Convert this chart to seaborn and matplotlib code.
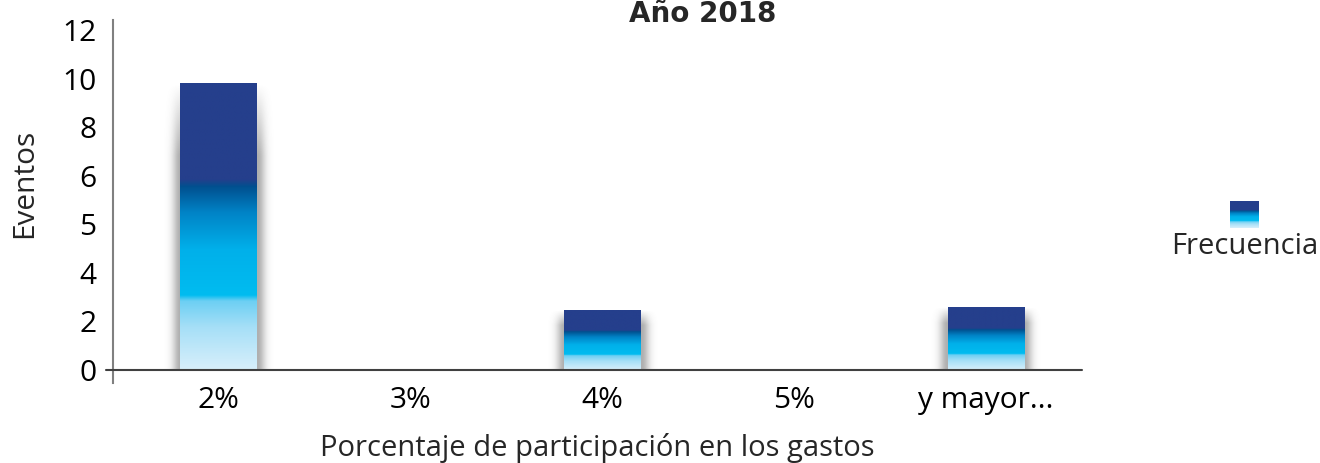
import numpy as np
import pandas as pd
import matplotlib
matplotlib.use("Agg")
import matplotlib.pyplot as plt
from matplotlib.colors import LinearSegmentedColormap
import seaborn as sns

# datos
categorias = ["2%", "3%", "4%", "5%", "y mayor..."]
frecuencia = [10.1, 0, 2.1, 0, 2.2]
etiquetas_y = ["0", "2", "4", "5", "6", "8", "10", "12"]

df = pd.DataFrame({"clase": categorias, "frecuencia": frecuencia})

sns.set_style("white")
plt.rcParams["font.family"] = ["Open Sans", "DejaVu Sans"]

# degradado tipo Excel (abajo -> arriba)
grad_cmap = LinearSegmentedColormap.from_list("excel_azul", [
    (0.00, "#d8effb"),
    (0.15, "#a5dff7"),
    (0.24, "#6ccff3"),
    (0.26, "#00bcf0"),
    (0.42, "#00b0ea"),
    (0.55, "#0083c6"),
    (0.64, "#00508f"),
    (0.665, "#253f8c"),
    (1.00, "#253f8c"),
])

# ylim (-0.45, 12.35): 0 en y=370 px y 12 en y=30 px
ppu = 340 / 12
ax_top = 30 - 0.35 * ppu
ax_bot = 370 + 0.45 * ppu

fig = plt.figure(figsize=(13.2, 4.63), dpi=100)
ax = fig.add_axes([113 / 1320, 1 - ax_bot / 463, (1082 - 113) / 1320, (ax_bot - ax_top) / 463])

sns.barplot(data=df, x="clase", y="frecuencia", color="#253f8c", width=0.40, ax=ax)

grad = np.linspace(0, 1, 256).reshape(-1, 1)
for p in ax.patches:
    x0, w, h = p.get_x(), p.get_width(), p.get_height()
    p.set_visible(False)
    if h <= 0:
        continue
    # sombra suave a los lados, se desvanece arriba
    m = 0.1
    sx = np.linspace(x0 - m, x0 + w + m, 300)
    d = np.maximum(np.maximum(x0 - sx, sx - (x0 + w)), 0)
    alpha = 0.45 * np.exp(-(d / 0.04) ** 2)
    sy = np.linspace(0, 1, 100)
    vy = np.clip((1 - sy) / 0.25, 0, 1)
    sh = np.zeros((100, 300, 4))
    sh[..., :3] = 0.3
    sh[..., 3] = vy[:, None] * alpha[None, :]
    ax.imshow(sh, extent=[x0 - m, x0 + w + m, 0, h], origin="lower", aspect="auto",
              zorder=2, interpolation="bilinear")
    ax.imshow(grad, extent=[x0, x0 + w, 0, h], origin="lower", aspect="auto",
              cmap=grad_cmap, zorder=3, interpolation="bilinear")

ax.set_xlim(-0.55, 4.5)
ax.set_ylim(-0.45, 12.35)
ax.set_yticks(np.linspace(0, 12, len(etiquetas_y)))
ax.set_yticklabels(etiquetas_y)

for s in ["top", "right", "bottom"]:
    ax.spines[s].set_visible(False)
ax.spines["left"].set_color("#808080")
ax.spines["left"].set_linewidth(1.5)
ax.axhline(0, xmin=-0.007, xmax=1, color="#404040", lw=1.5, clip_on=False, zorder=4)

ax.tick_params(axis="both", length=0, labelsize=21.5, colors="black")
ax.tick_params(axis="y", pad=12)
ax.tick_params(axis="x", pad=2)
ax.set_xlabel("Porcentaje de participación en los gastos", fontsize=21, labelpad=13)
ax.set_ylabel("Eventos", fontsize=21.5)
ax.yaxis.set_label_coords(-0.076, 0.55)

fig.text(703 / 1320, 1 - 22 / 463, "Año 2018", ha="center", va="baseline",
         fontsize=20, fontweight="bold", family="DejaVu Sans")

# leyenda
lax = fig.add_axes([1230 / 1320, 1 - 228 / 463, 29 / 1320, 27 / 463])
lax.imshow(grad, origin="lower", aspect="auto", cmap=grad_cmap, extent=[0, 1, 0, 1])
lax.axis("off")
fig.text(1245 / 1320, 1 - 247 / 463, "Frecuencia", ha="center", va="center", fontsize=21)

fig.savefig("out.png", dpi=100)
